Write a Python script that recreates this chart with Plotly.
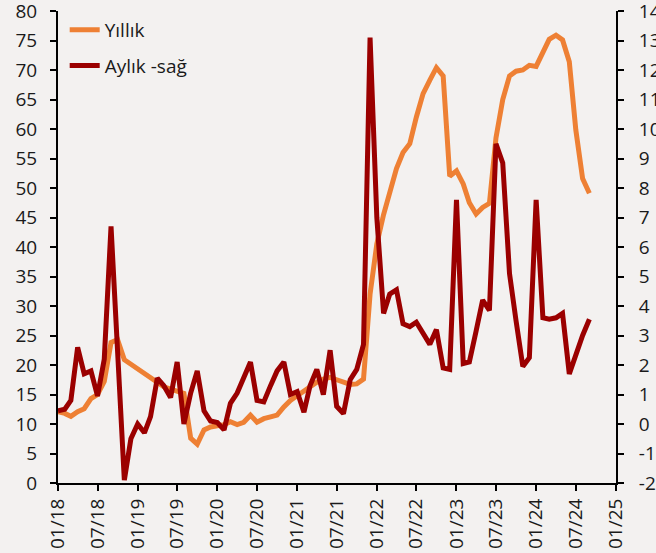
import pandas as pd
import plotly.graph_objects as go

months = pd.date_range("2018-01-01", periods=81, freq="MS")

yillik = [12.1, 11.8, 11.3, 12.1, 12.6, 14.3, 15.0, 17.2, 23.8, 24.3, 20.9, 20.1,
          19.5, 18.6, 17.9, 17.1, 16.3, 15.9, 15.6, 15.2, 7.6, 6.6, 9.0, 9.5,
          9.7, 9.9, 10.4, 9.9, 10.3, 11.5, 10.3, 10.9, 11.2, 11.5, 12.9, 14.0,
          14.8, 15.6, 16.3, 17.1, 17.6, 17.9, 17.5, 17.0, 16.7, 16.8, 17.6, 32.0,
          40.5, 45.5, 49.5, 53.3, 56.0, 57.5, 62.0, 66.0, 68.3, 70.4, 69.0, 52.0,
          52.9, 50.7, 47.5, 45.6, 46.7, 47.4, 58.5, 65.0, 69.0, 69.8, 70.0, 70.8,
          70.6, 72.9, 75.2, 75.9, 75.1, 71.4, 59.8, 51.6, 49.1]

aylik = [0.45, 0.5, 0.8, 2.6, 1.7, 1.8, 0.95, 2.2, 6.7, 2.4, -1.9, -0.5,
         0.0, -0.3, 0.25, 1.55, 1.3, 0.9, 2.1, 0.0, 1.05, 1.8, 0.45, 0.1,
         0.05, -0.2, 0.7, 1.05, 1.6, 2.1, 0.8, 0.75, 1.3, 1.8, 2.1, 1.0,
         1.1, 0.4, 1.3, 1.85, 1.0, 2.5, 0.6, 0.35, 1.5, 1.85, 2.7, 13.1,
         7.0, 3.75, 4.4, 4.55, 3.4, 3.3, 3.45, 3.1, 2.7, 3.2, 1.9, 1.85,
         7.6, 2.05, 2.1, 3.15, 4.2, 3.85, 9.5, 8.85, 5.1, 3.5, 1.95, 2.25,
         7.6, 3.6, 3.55, 3.6, 3.75, 1.7, 2.4, 3.0, 3.55]

tick_dates = pd.date_range("2018-01-01", "2025-01-01", freq="6MS")
tick_text = [d.strftime("%m/%y") for d in tick_dates]

left_ticks = list(range(0, 81, 5))
right_ticks = list(range(-2, 15))
right_text = [str(v) for v in right_ticks]  # hyphen-minus as in the original

BG = "#F3F1F0"
ORANGE = "#EE8034"
DARKRED = "#9B0000"
FONT = "Open Sans"

fig = go.Figure()
fig.add_trace(go.Scatter(x=months, y=yillik, name="Yıllık", mode="lines",
                         line=dict(color=ORANGE, width=5), yaxis="y",
                         legendgroup="a"))
fig.add_trace(go.Scatter(x=months, y=aylik, name="Aylık -sağ", mode="lines",
                         line=dict(color=DARKRED, width=5), yaxis="y2",
                         legendgroup="b"))

axis_common = dict(showgrid=False, zeroline=False, showline=True,
                   linecolor="black", linewidth=2, ticks="outside",
                   ticklen=6, tickwidth=2, tickcolor="black",
                   automargin=False, ticklabeloverflow="allow",
                   tickfont=dict(family=FONT, size=19, color="#1a1a1a"))

fig.update_layout(
    width=656, height=553,
    margin=dict(l=58, r=40, t=11, b=70),
    paper_bgcolor=BG, plot_bgcolor=BG,
    showlegend=True,
    legend=dict(x=0.012, y=1.0, xanchor="left", yanchor="top",
                bgcolor="rgba(0,0,0,0)", traceorder="grouped",
                tracegroupgap=8,
                font=dict(family=FONT, size=19, color="#1a1a1a")),
    xaxis=dict(range=["2018-01-01", "2025-01-01"], tickvals=tick_dates,
               ticktext=tick_text, tickangle=-90, **axis_common),
    yaxis=dict(range=[0, 80], tickvals=left_ticks, ticklabelstandoff=9,
               **axis_common),
    yaxis2=dict(range=[-2, 14], tickvals=right_ticks, ticktext=right_text,
                overlaying="y", side="right", ticklabelstandoff=11,
                **axis_common),
)

# remove the browser's default page margin so the figure fills the window
fig.write_html("out.html",
               config={"displayModeBar": False},
               post_script="document.body.style.margin='0';"
                           "document.body.style.background='%s';" % BG)
